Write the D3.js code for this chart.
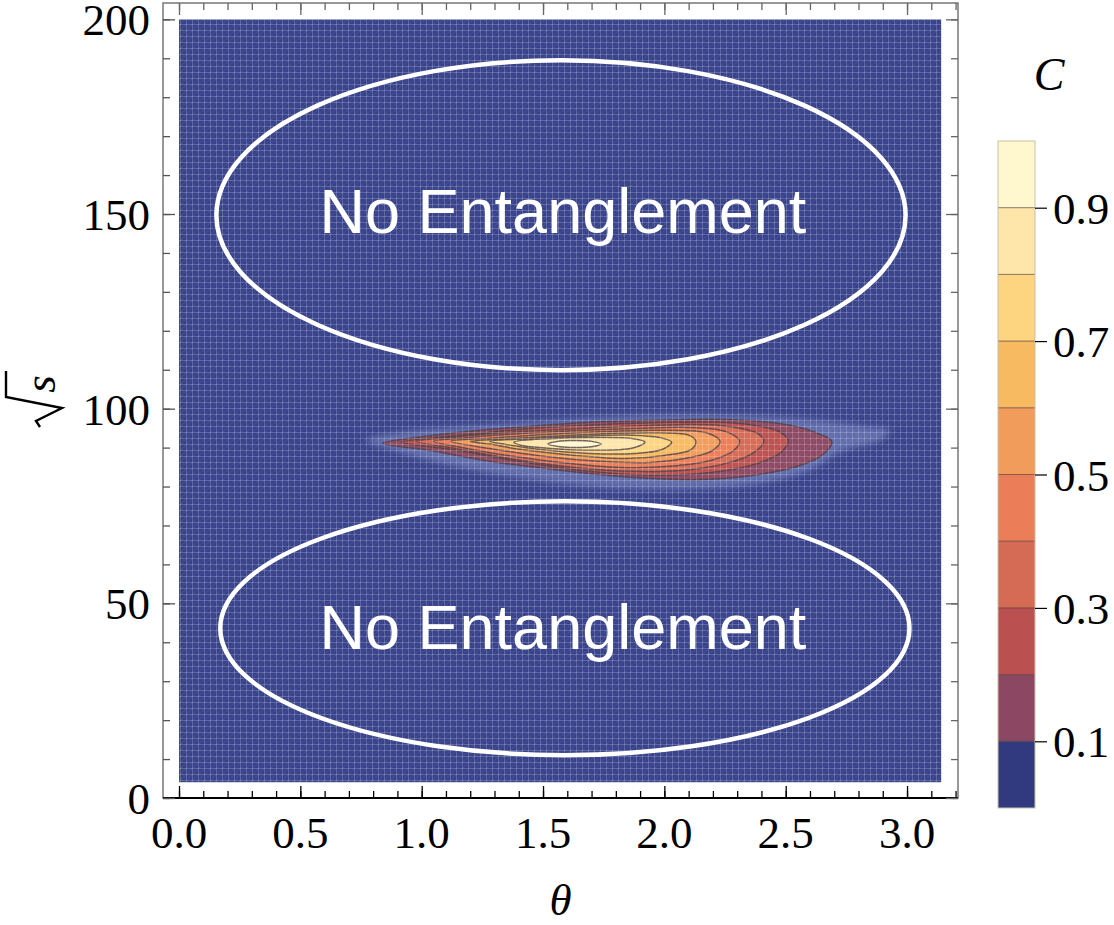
<!DOCTYPE html>
<html>
<head>
<meta charset="utf-8">
<script src="https://cdn.jsdelivr.net/npm/d3@7"></script>
<style>
  body { margin: 0; background: #fff; }
  svg { display: block; }
</style>
</head>
<body>
<div id="chart"></div>
<script>
// concurrence C over (theta, sqrt s), contour lines
var levels = [0.1, 0.2, 0.3, 0.4, 0.5, 0.6, 0.7, 0.8, 0.9];
var bandColors = ["#313a7e", "#8c4862", "#ba5150", "#d56a55", "#eb7d58",
                  "#f29c5c", "#f8ba60", "#fdd480", "#fee6aa", "#fff7cd"];

var xMajorTicks = [0, 0.5, 1, 1.5, 2, 2.5, 3];
var yMajorTicks = [0, 50, 100, 150, 200];
var colorTicks = [0.1, 0.3, 0.5, 0.7, 0.9];

// [theta, sqrt s]
var c01 = [[0.84,91.1],[0.99,92.7],[1.20,94.2],[1.45,95.5],[1.69,96.5],[1.94,97.0],[2.19,97.3],
           [2.39,96.8],[2.54,95.5],[2.63,93.7],[2.69,91.6],[2.66,88.5],[2.56,85.4],[2.39,83.1],
           [2.15,81.8],[1.86,82.4],[1.57,84.2],[1.28,86.5],[1.03,89.3]];
var c02 = [[0.92,91.4],[1.08,92.7],[1.28,93.9],[1.53,95.2],[1.78,96.0],[2.02,96.5],[2.23,96.5],
           [2.37,95.7],[2.47,94.2],[2.51,91.9],[2.48,88.8],[2.37,85.7],[2.19,83.6],[1.94,82.9],
           [1.69,83.9],[1.40,86.5],[1.12,89.6]];
var c03 = [[0.98,91.6],[1.14,92.7],[1.34,93.8],[1.59,94.7],[1.84,95.5],[2.06,95.9],[2.23,95.7],
           [2.33,94.7],[2.39,93.4],[2.41,91.6],[2.37,88.8],[2.27,86.2],[2.11,84.4],[1.88,83.9],
           [1.63,84.9],[1.36,87.2],[1.14,89.8]];
var c04 = [[1.05,91.6],[1.20,92.6],[1.41,93.6],[1.65,94.4],[1.88,94.9],[2.08,95.2],[2.21,94.7],
           [2.28,93.4],[2.31,91.6],[2.28,89.0],[2.19,86.7],[2.02,85.2],[1.82,84.9],[1.57,86.2],
           [1.32,88.3],[1.16,90.1]];
var c05 = [[1.12,91.6],[1.28,92.4],[1.49,93.3],[1.71,94.0],[1.92,94.4],[2.08,94.4],[2.18,93.7],
           [2.23,91.6],[2.20,89.3],[2.11,87.5],[1.94,86.2],[1.73,86.5],[1.51,87.7],[1.28,89.8]];
var c06 = [[1.20,91.6],[1.36,92.3],[1.57,93.0],[1.80,93.7],[1.98,93.8],[2.10,93.2],[2.13,91.6],
           [2.11,89.5],[2.00,88.0],[1.84,87.2],[1.63,88.0],[1.41,89.5],[1.28,90.9]];
var c07 = [[1.28,91.6],[1.45,92.3],[1.65,92.9],[1.86,93.2],[1.98,92.6],[2.03,91.4],[1.99,89.5],
           [1.88,88.5],[1.69,88.5],[1.49,89.5],[1.34,90.9]];
var c08 = [[1.38,91.4],[1.53,92.3],[1.71,92.6],[1.86,92.4],[1.92,91.4],[1.87,89.9],[1.71,89.3],
           [1.53,89.8],[1.41,90.6]];
var c09 = [[1.52,90.9],[1.57,91.7],[1.63,91.8],[1.70,91.6],[1.74,90.9],[1.70,90.2],[1.63,90.0],
           [1.57,90.2]];
var contours = [c01, c02, c03, c04, c05, c06, c07, c08, c09];

// faint numerical haze round the entangled region
var haze = [[0.77,91.9],[0.91,93.9],[1.32,96.0],[1.73,97.8],[2.15,98.5],[2.56,97.5],[2.81,95.7],
            [2.93,94.4],[2.89,91.9],[2.72,88.8],[2.60,84.2],[2.39,80.8],[2.06,79.3],[1.73,79.8],
            [1.41,82.1],[1.12,85.4],[0.91,88.8]];

// annotation ellipses: centre theta, centre sqrt s, half width, half height
var ellipses = [[1.574, 149.7, 1.42, 39.8], [1.59, 43.6, 1.42, 32.6]];
var notes = [[1.582, 145.0, "No Entanglement"], [1.582, 38.2, "No Entanglement"]];

var width = 1114, height = 925;

var x = d3.scaleLinear().domain([-0.066, 3.21]).range([163, 958]);
var y = d3.scaleLinear().domain([0, 204.2]).range([798, 3]);
var cScale = d3.scaleLinear().domain([0, 1]).range([808, 141]);

var svg = d3.select("#chart").append("svg")
  .attr("width", width)
  .attr("height", height)
  .style("background", "#fff");

var defs = svg.append("defs");
var mesh = defs.append("pattern")
  .attr("id", "mesh")
  .attr("patternUnits", "userSpaceOnUse")
  .attr("width", 6).attr("height", 6);
mesh.append("rect").attr("x", 0).attr("y", 0).attr("width", 6).attr("height", 1).attr("fill", "#fff").attr("opacity", 0.2);
mesh.append("rect").attr("x", 0).attr("y", 0).attr("width", 1).attr("height", 6).attr("fill", "#fff").attr("opacity", 0.2);
mesh.append("path").attr("d", "M1,6 L6,1").attr("stroke", "#fff").attr("stroke-width", 0.6).attr("opacity", 0.12);

defs.append("filter").attr("id", "soft")
  .append("feGaussianBlur").attr("stdDeviation", 3);

var clip = defs.append("clipPath").attr("id", "plotclip");
clip.append("rect")
  .attr("x", x(0)).attr("y", y(200))
  .attr("width", x(Math.PI) - x(0))
  .attr("height", y(4) - y(200));

// data area
var plot = svg.append("g").attr("clip-path", "url(#plotclip)");
plot.append("rect")
  .attr("x", x(0)).attr("y", y(200))
  .attr("width", x(Math.PI) - x(0))
  .attr("height", y(4) - y(200))
  .attr("fill", "#37428a");

var line = d3.line()
  .x(function(d) { return x(d[0]); })
  .y(function(d) { return y(d[1]); })
  .curve(d3.curveCatmullRomClosed.alpha(0.5));

plot.append("path")
  .attr("d", line(haze))
  .attr("fill", "#7682bc")
  .attr("opacity", 0.65)
  .attr("filter", "url(#soft)");

plot.selectAll("path.band")
  .data(contours)
  .enter()
  .append("path")
  .attr("class", "band")
  .attr("d", line)
  .attr("fill", function(d, i) { return bandColors[i + 1]; })
  .attr("stroke", "#4b3c40")
  .attr("stroke-opacity", 0.8)
  .attr("stroke-width", 1.5);

plot.append("rect")
  .attr("x", x(0)).attr("y", y(200))
  .attr("width", x(Math.PI) - x(0))
  .attr("height", y(4) - y(200))
  .attr("fill", "url(#mesh)");

// white annotations
svg.selectAll("ellipse.note")
  .data(ellipses)
  .enter()
  .append("ellipse")
  .attr("class", "note")
  .attr("cx", function(d) { return x(d[0]); })
  .attr("cy", function(d) { return y(d[1]); })
  .attr("rx", function(d) { return x(d[0] + d[2]) - x(d[0]); })
  .attr("ry", function(d) { return y(d[1]) - y(d[1] + d[3]); })
  .attr("fill", "none")
  .attr("stroke", "#fff")
  .attr("stroke-width", 4.5);

svg.selectAll("text.note")
  .data(notes)
  .enter()
  .append("text")
  .attr("class", "note")
  .attr("x", function(d) { return x(d[0]); })
  .attr("y", function(d) { return y(d[1]); })
  .attr("text-anchor", "middle")
  .style("font-family", "'Liberation Sans', Arial, sans-serif")
  .style("font-size", "63px")
  .attr("fill", "#fff")
  .text(function(d) { return d[2]; });

// frame
var frame = svg.append("g");
frame.append("rect")
  .attr("x", x.range()[0]).attr("y", y.range()[1])
  .attr("width", x.range()[1] - x.range()[0])
  .attr("height", y.range()[0] - y.range()[1])
  .attr("fill", "none")
  .attr("stroke", "#777")
  .attr("stroke-width", 1.5);
frame.append("line")
  .attr("x1", x.range()[0]).attr("x2", x.range()[1])
  .attr("y1", y.range()[0]).attr("y2", y.range()[0])
  .attr("stroke", "#000").attr("stroke-width", 1.8);

var xMinor = d3.range(0, 3.25, 0.1);
var yMinor = d3.range(0, 205, 10);

function drawTicks(axis, tickVals, size, transform, color) {
  var g = svg.append("g")
    .attr("transform", transform)
    .call(axis.tickValues(tickVals).tickSize(size).tickFormat(""));
  g.select(".domain").remove();
  g.selectAll(".tick line").attr("stroke", color).attr("stroke-width", 1.3);
  return g;
}

// bottom and top
drawTicks(d3.axisBottom(x), xMinor, -7, "translate(0," + y.range()[0] + ")", "#000");
drawTicks(d3.axisBottom(x), xMajorTicks, -12, "translate(0," + y.range()[0] + ")", "#000");
drawTicks(d3.axisTop(x), xMinor, -7, "translate(0," + y.range()[1] + ")", "#666");
drawTicks(d3.axisTop(x), xMajorTicks, -12, "translate(0," + y.range()[1] + ")", "#666");
// left and right
drawTicks(d3.axisLeft(y), yMinor, -7, "translate(" + x.range()[0] + ",0)", "#555");
drawTicks(d3.axisLeft(y), yMajorTicks, -12, "translate(" + x.range()[0] + ",0)", "#555");
drawTicks(d3.axisRight(y), yMinor, -7, "translate(" + x.range()[1] + ",0)", "#666");
drawTicks(d3.axisRight(y), yMajorTicks, -12, "translate(" + x.range()[1] + ",0)", "#666");

var serif = "'Liberation Serif', 'Times New Roman', serif";

svg.append("g").selectAll("text")
  .data(xMajorTicks)
  .enter()
  .append("text")
  .attr("x", function(d) { return x(d); })
  .attr("y", 848)
  .attr("text-anchor", "middle")
  .style("font-family", serif)
  .style("font-size", "45px")
  .text(function(d) { return d3.format(".1f")(d); });

svg.append("g").selectAll("text")
  .data(yMajorTicks)
  .enter()
  .append("text")
  .attr("x", 150)
  .attr("y", function(d) { return y(d) + 16; })
  .attr("text-anchor", "end")
  .style("font-family", serif)
  .style("font-size", "45px")
  .text(function(d) { return d; });

// axis titles
svg.append("text")
  .attr("x", (x.range()[0] + x.range()[1]) / 2)
  .attr("y", 915)
  .attr("text-anchor", "middle")
  .style("font-family", serif)
  .style("font-style", "italic")
  .style("font-size", "45px")
  .text("\u03b8");

// sqrt s, written bottom to top
svg.append("path")
  .attr("d", "M40,427 L36,421 L62,408 L6,397 L6,371")
  .attr("fill", "none")
  .attr("stroke", "#000")
  .attr("stroke-width", 2.4)
  .attr("stroke-linejoin", "miter");
svg.append("text")
  .attr("transform", "translate(55,384) rotate(-90)")
  .attr("text-anchor", "middle")
  .style("font-family", serif)
  .style("font-style", "italic")
  .style("font-size", "45px")
  .text("s");

// colour bar
var bar = svg.append("g");
var edges = [0].concat(levels).concat([1]);
bar.selectAll("rect.band")
  .data(bandColors)
  .enter()
  .append("rect")
  .attr("class", "band")
  .attr("x", 998)
  .attr("width", 37)
  .attr("y", function(d, i) { return cScale(edges[i + 1]); })
  .attr("height", function(d, i) { return cScale(edges[i]) - cScale(edges[i + 1]); })
  .attr("fill", function(d) { return d; });
bar.selectAll("line.edge")
  .data(levels)
  .enter()
  .append("line")
  .attr("class", "edge")
  .attr("x1", 998).attr("x2", 1035)
  .attr("y1", function(d) { return cScale(d); })
  .attr("y2", function(d) { return cScale(d); })
  .attr("stroke", "#3a2a2a")
  .attr("stroke-opacity", 0.6)
  .attr("stroke-width", 1);
bar.append("rect")
  .attr("x", 998).attr("y", cScale(1))
  .attr("width", 37).attr("height", cScale(0) - cScale(1))
  .attr("fill", "none")
  .attr("stroke", "#c8c0a8")
  .attr("stroke-width", 1);

var cAxis = bar.append("g")
  .attr("transform", "translate(1035,0)")
  .call(d3.axisRight(cScale).tickValues(colorTicks).tickSize(12).tickFormat(""));
cAxis.select(".domain").remove();
cAxis.selectAll(".tick line").attr("stroke", "#000").attr("stroke-width", 1.2);

bar.selectAll("text.clab")
  .data(colorTicks)
  .enter()
  .append("text")
  .attr("class", "clab")
  .attr("x", 1053)
  .attr("y", function(d) { return cScale(d) + 16; })
  .style("font-family", serif)
  .style("font-size", "45px")
  .text(function(d) { return d3.format(".1f")(d); });

bar.append("text")
  .attr("x", 1049)
  .attr("y", 90)
  .attr("text-anchor", "middle")
  .style("font-family", serif)
  .style("font-style", "italic")
  .style("font-size", "46px")
  .text("C");
</script>
</body>
</html>
